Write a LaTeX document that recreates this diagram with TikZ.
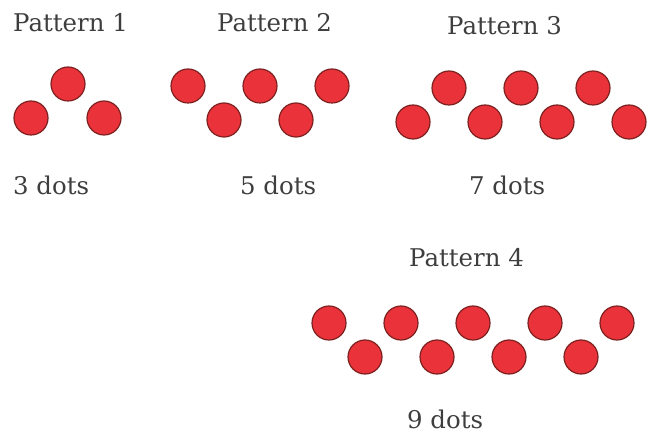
\documentclass[tikz,border=0pt]{standalone}
\usepackage{fontspec}
\setmainfont{DejaVu Serif}
\usepackage{tikz}
\usetikzlibrary{positioning}
\definecolor{dotred}{RGB}{234,50,58}
\definecolor{dotedge}{RGB}{125,32,32}
\definecolor{textgray}{RGB}{62,62,62}

\begin{document}
\begin{tikzpicture}[
    x=1bp, y=-1bp,
    dot_node/.style={circle, draw=dotedge, line width=1.2bp, fill=dotred, minimum size=34bp, inner sep=0pt},
    txt_node/.style={anchor=base west, inner sep=0pt, text=textgray, font=\fontsize{24.5}{29}\selectfont}
    ]
    \useasboundingbox (0,0) rectangle (657,434);

    % Titles
    \node[txt_node] (t1) at (13,32) {Pattern 1};
    \node[txt_node] (t2) at (217,32) {Pattern 2};
    \node[txt_node] (t3) at (447,35) {Pattern 3};
    \node[txt_node] (t4) at (409,267) {Pattern 4};

    % Dots
    \foreach \x/\y [count=\n] in {31/118, 68/84, 104/118}
        \node[dot_node] (p1d\n) at (\x,\y) {};
    \foreach \x/\y [count=\n] in {188/86, 224/120, 260/86, 296/120, 332/86}
        \node[dot_node] (p2d\n) at (\x,\y) {};
    \foreach \x/\y [count=\n] in {413/122, 449/88, 485/122, 521/88, 557/122, 593/88, 629/122}
        \node[dot_node] (p3d\n) at (\x,\y) {};
    \foreach \x/\y [count=\n] in {329/323, 365/357, 401/323, 437/357, 473/323, 509/357, 545/323, 581/357, 617/323}
        \node[dot_node] (p4d\n) at (\x,\y) {};

    % Counts
    \node[txt_node] (c1) at (13,195) {3 dots};
    \node[txt_node] (c2) at (240,195) {5 dots};
    \node[txt_node] (c3) at (469,195) {7 dots};
    \node[txt_node] (c4) at (407,428) {9 dots};
\end{tikzpicture}
\end{document}
